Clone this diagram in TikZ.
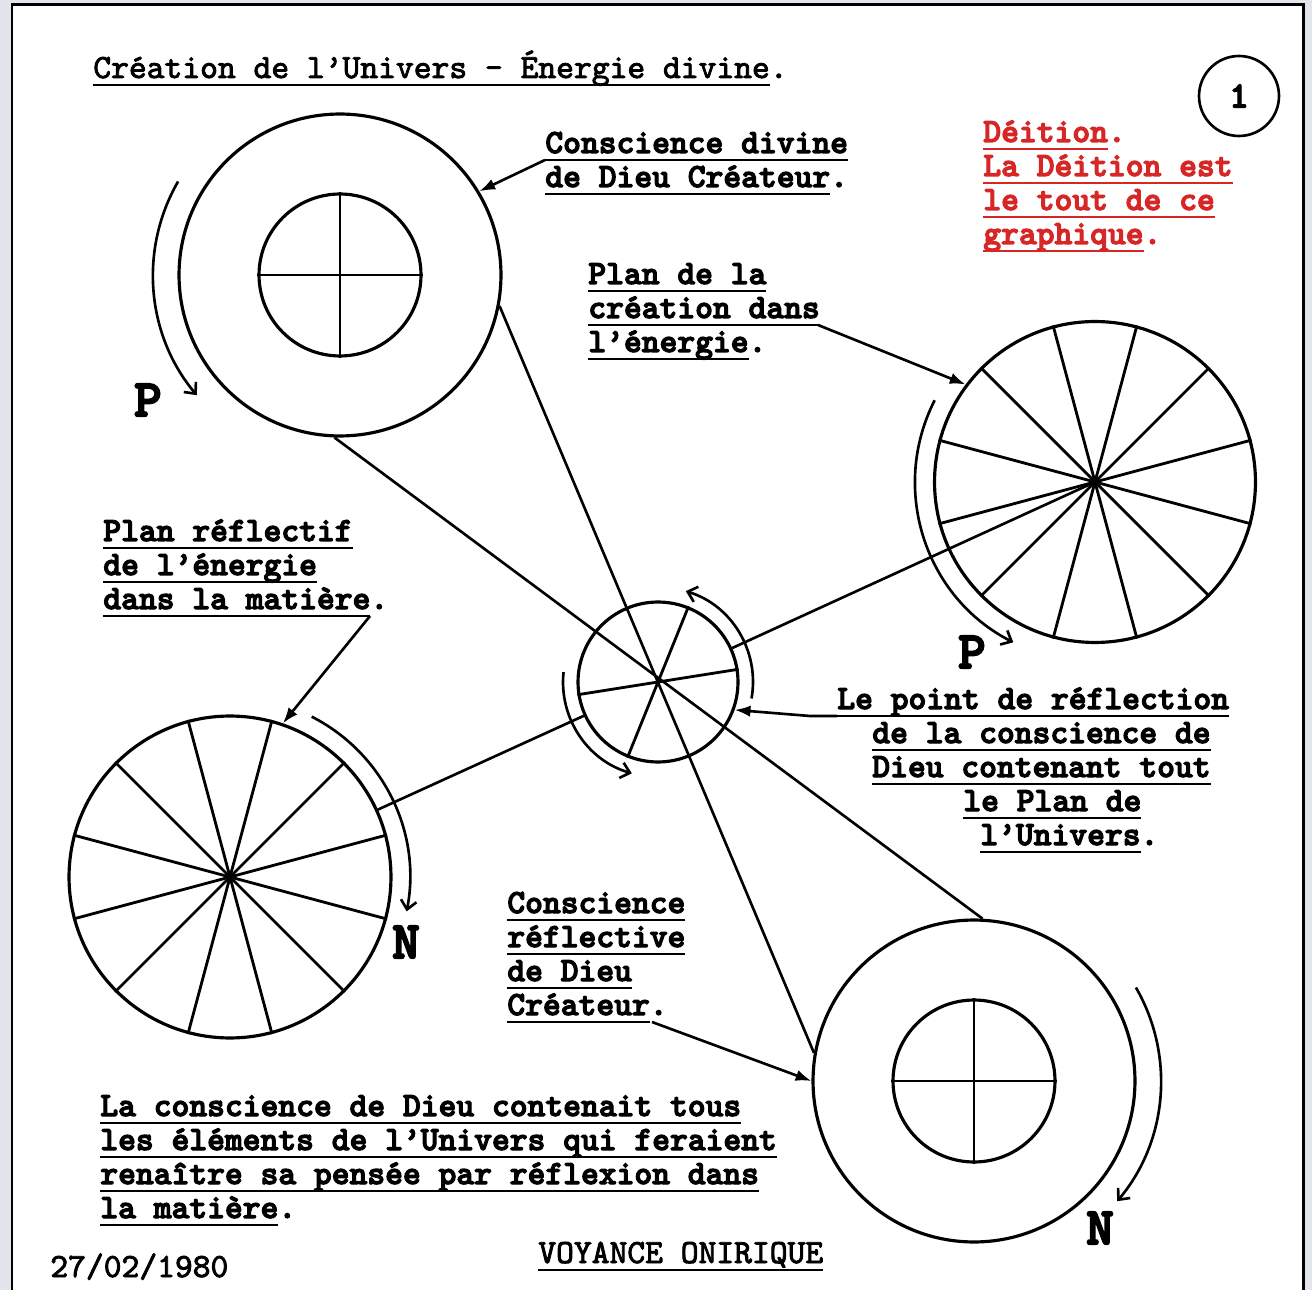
\documentclass[tikz,border=0pt]{standalone}
\usepackage{fontspec}
\setmainfont{Liberation Serif}
\newfontfamily\labelmono[FakeBold=3.5]{lmmonolt10-bold.otf}
\newfontfamily\medmono[FakeBold=2.5]{lmmono10-regular.otf}
\usetikzlibrary{arrows.meta, calc}
\definecolor{deitred}{RGB}{214,38,38}
\definecolor{backdrop}{RGB}{226,229,235}
\newcommand{\lblsize}{\fontsize{19.3}{20}\selectfont}
\newcommand{\uln}[1]{\setbox0\hbox{#1}\rlap{\rule[-0.24em]{\wd0}{0.075em}}\box0}

\begin{document}
\begin{tikzpicture}[
    x=0.02cm, y=-0.02cm,
    every node/.style={inner sep=0pt},
    lbl/.style={font=\labelmono\lblsize, anchor=base west},
    redlbl/.style={lbl, text=deitred},
    medlbl/.style={font=\medmono\lblsize, anchor=base west},
    ring/.style={circle, draw, line width=1.8pt, minimum size=#1},
    spoke/.style={line width=1.6pt},
    ray/.style={line width=1.5pt},
    pointer/.style={line width=1.5pt, -{Latex[length=9pt,width=6.5pt]}},
    turn/.style={line width=1.5pt, -{Straight Barb[length=5pt,width=9pt]}},
    pole/.style={font=\labelmono\fontsize{30}{30}\selectfont},
]
\useasboundingbox (0,0) rectangle (1312,1290);
\clip (0,0) rectangle (1312,1290);

% ---------- sheet ----------
\fill[backdrop] (0,0) rectangle (1312,1290);
\draw[line width=1.7pt, fill=white] (12,5) rectangle (1303,1310);

% ---------- title, number, date ----------
\node[medlbl] (title) at (93,78) {\uln{Création de l’Univers - Énergie divine}.};
\node[ring=1.6cm, line width=1.5pt, font=\labelmono\fontsize{21}{21}\selectfont] (num) at (1239,96) {1};
\node[medlbl] (date) at (50,1277) {27/02/1980};
\node[medlbl] (voyance) at (538,1263) {\uln{VOYANCE ONIRIQUE}};

% ---------- the five circles ----------
% Conscience divine (top left)
\node[ring=6.44cm] (ccreator) at (340,275) {};
\node[ring=3.24cm] (ccreator-core) at (340,275) {};
\draw[spoke] (ccreator-core.north) -- (ccreator-core.south)
             (ccreator-core.west) -- (ccreator-core.east);
% Conscience reflective (bottom right)
\node[ring=6.44cm] (cmirror) at (974,1081) {};
\node[ring=3.24cm] (cmirror-core) at (974,1081) {};
\draw[spoke] (cmirror-core.north) -- (cmirror-core.south)
             (cmirror-core.west) -- (cmirror-core.east);
% Plan de la creation (top right)
\node[ring=6.42cm] (cplan) at (1095,482) {};
\foreach \a in {15,45,...,345}
    \draw[spoke] (cplan.center) -- (cplan.\a);
% Plan reflectif (bottom left)
\node[ring=6.44cm] (crefl) at (230,877) {};
\foreach \a in {15,45,...,345}
    \draw[spoke] (crefl.center) -- (crefl.\a);
% Point de reflection (centre)
\node[ring=3.2cm] (cpoint) at (658,682) {};
\draw[spoke] (cpoint.9) -- (cpoint.189)
             (cpoint.68) -- (cpoint.248);

% ---------- rays through the point ----------
\draw[ray] (ccreator.-11) -- (cmirror.170);
\draw[ray] (ccreator.-92.4) -- (cmirror.87);
\draw[ray] (cplan.center) -- (cpoint);
\draw[ray] (crefl) -- (cpoint);

% ---------- rotations ----------
\draw[turn] ([shift={(150:3.74cm)}]ccreator.center) arc[start angle=150, end angle=220, radius=3.74cm];
\draw[turn] ([shift={(153:3.6cm)}]cplan.center) arc[start angle=153, end angle=243, radius=3.6cm];
\draw[turn] ([shift={(63:3.6cm)}]crefl.center) arc[start angle=63, end angle=-11, radius=3.6cm];
\draw[turn] ([shift={(30:3.74cm)}]cmirror.center) arc[start angle=30, end angle=-40, radius=3.74cm];
\draw[turn] ([shift={(-10:1.9cm)}]cpoint.center) arc[start angle=-10, end angle=73, radius=1.9cm];
\draw[turn] ([shift={(174:1.9cm)}]cpoint.center) arc[start angle=174, end angle=254, radius=1.9cm];
\node[pole] (p-creator) at (148,400) {P};
\node[pole] (p-plan) at (972,652) {P};
\node[pole] (n-refl) at (406,942) {N};
\node[pole] (n-mirror) at (1100,1228) {N};

% ---------- labels ----------
\foreach \t [count=\i from 0] in {{\uln{Déition}.}, {\uln{La Déition est}}, {\uln{le tout de ce}}, {\uln{graphique}.}}
    \node[redlbl] (deit-\i) at (983,{142+34*\i}) {\t};
\foreach \t [count=\i from 0] in {{\uln{Conscience divine}}, {\uln{de Dieu Créateur}.}}
    \node[lbl] (divine-\i) at (545,{153+34*\i}) {\t};
\foreach \t [count=\i from 0] in {{\uln{Plan de la}}, {\uln{création dans}}, {\uln{l’énergie}.}}
    \node[lbl] (plan-\i) at (588,{284+34*\i}) {\t};
\foreach \t [count=\i from 0] in {{\uln{Plan réflectif}}, {\uln{de l’énergie}}, {\uln{dans la matière}.}}
    \node[lbl] (matter-\i) at (103,{541+34*\i}) {\t};
\foreach \x/\t [count=\i from 0] in {837/{\uln{Le point de réflection}}, 872/{\uln{de la conscience de}},
        872/{\uln{Dieu contenant tout}}, 963/{\uln{le Plan de}}, 980/{\uln{l’Univers}.}}
    \node[lbl] (point-\i) at (\x,{709+34*\i}) {\t};
\foreach \t [count=\i from 0] in {{\uln{Conscience}}, {\uln{réflective}}, {\uln{de Dieu}}, {\uln{Créateur}.}}
    \node[lbl] (mirror-\i) at (507,{913+34*\i}) {\t};
\foreach \t [count=\i from 0] in {{\uln{La conscience de Dieu contenait tous}}, {\uln{les éléments de l’Univers qui feraient}},
        {\uln{renaître sa pensée par réflexion dans}}, {\uln{la matière}.}}
    \node[lbl] (bottom-\i) at (100,{1116+34*\i}) {\t};

% ---------- label arrows ----------
\coordinate (divine-tail) at (545,160);
\coordinate (plan-tail) at (818,325);
\coordinate (matter-tail) at (370,616);
\coordinate (mirror-tail) at (652,1022);
\coordinate (point-tail) at (810,716);
\coordinate (point-rule) at (837,716);
\draw[pointer] (divine-tail) -- (ccreator.31);
\draw[pointer] (plan-tail) -- (cplan.143);
\draw[pointer] (matter-tail) -- (crefl.71);
\draw[pointer] (mirror-tail) -- (cmirror.180);
\draw[pointer] (point-rule) -- (point-tail) -- (cpoint.-20);

\end{tikzpicture}
\end{document}
